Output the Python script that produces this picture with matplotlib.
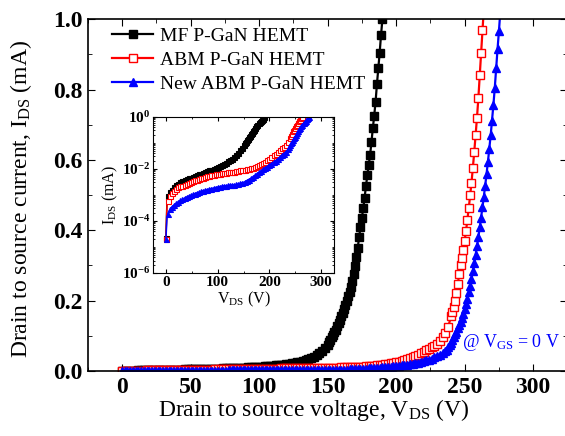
import numpy as np
import matplotlib
matplotlib.use("Agg")
import matplotlib.pyplot as plt
from matplotlib.ticker import MultipleLocator, FixedLocator, LogLocator, NullFormatter

plt.rcParams["font.family"] = ["Liberation Serif", "DejaVu Serif"]
plt.rcParams["mathtext.fontset"] = "custom"
plt.rcParams["mathtext.rm"] = "Liberation Serif"
plt.rcParams["mathtext.it"] = "Liberation Serif:italic"
plt.rcParams["mathtext.bf"] = "Liberation Serif:bold"

# sweep voltages (V): 2 V steps on the low part, 1 V steps on the steep part
mf_v = list(range(0, 150, 2)) + list(range(150, 191))
abm_v = list(range(0, 240, 2)) + list(range(240, 265))
new_v = list(range(0, 236, 2)) + list(range(236, 277))

# drain current (mA)
mf_i = [2.2e-5, 6.0e-4, 9.0e-4, 1.1e-3, 1.25e-3, 1.4e-3, 1.6e-3, 1.8e-3, 2.0e-3, 2.2e-3,
        2.4e-3, 2.55e-3, 2.7e-3, 2.85e-3, 3.0e-3, 3.2e-3, 3.35e-3, 3.5e-3, 3.65e-3, 3.8e-3,
        4.0e-3, 4.15e-3, 4.3e-3, 4.5e-3, 4.65e-3, 4.8e-3, 5.0e-3, 5.15e-3, 5.3e-3, 5.5e-3,
        5.7e-3, 5.9e-3, 6.1e-3, 6.3e-3, 6.55e-3, 6.8e-3, 7.0e-3, 7.3e-3, 7.55e-3, 7.8e-3,
        8.1e-3, 8.4e-3, 8.7e-3, 9.1e-3, 9.4e-3, 9.8e-3, 1.01e-2, 1.05e-2, 1.1e-2, 1.15e-2,
        1.2e-2, 1.26e-2, 1.32e-2, 1.38e-2, 1.44e-2, 1.5e-2, 1.58e-2, 1.66e-2, 1.75e-2, 1.85e-2,
        1.95e-2, 2.07e-2, 2.19e-2, 2.32e-2, 2.44e-2, 2.55e-2, 2.75e-2, 3.0e-2, 3.3e-2, 3.7e-2,
        4.1e-2, 4.6e-2, 5.1e-2, 5.7e-2, 6.5e-2,
        0.075, 0.082, 0.089, 0.096, 0.103, 0.110, 0.118, 0.127, 0.136, 0.146,
        0.156, 0.166, 0.176, 0.188, 0.200, 0.213, 0.226, 0.240, 0.256, 0.275,
        0.298, 0.325, 0.350, 0.380, 0.410, 0.435, 0.462, 0.493, 0.525, 0.557,
        0.585, 0.614, 0.650, 0.690, 0.725, 0.765, 0.815, 0.860, 0.905, 0.955,
        1.000]

abm_i = [2e-5, 4e-4, 6e-4, 7.5e-4, 8.8e-4, 1.0e-3, 1.15e-3, 1.28e-3, 1.42e-3, 1.56e-3,
         1.7e-3, 1.82e-3, 1.94e-3, 2.04e-3, 2.12e-3, 2.2e-3, 2.28e-3, 2.36e-3, 2.45e-3, 2.58e-3,
         2.7e-3, 2.82e-3, 2.94e-3, 3.06e-3, 3.18e-3, 3.3e-3, 3.42e-3, 3.54e-3, 3.66e-3, 3.78e-3,
         3.9e-3, 4.02e-3, 4.14e-3, 4.26e-3, 4.38e-3, 4.5e-3, 4.62e-3, 4.74e-3, 4.86e-3, 4.98e-3,
         5.1e-3, 5.25e-3, 5.4e-3, 5.55e-3, 5.7e-3, 5.8e-3, 5.92e-3, 6.04e-3, 6.16e-3, 6.28e-3,
         6.4e-3, 6.48e-3, 6.56e-3, 6.66e-3, 6.78e-3, 6.9e-3, 7.02e-3, 7.14e-3, 7.24e-3, 7.32e-3,
         7.4e-3, 7.48e-3, 7.56e-3, 7.64e-3, 7.72e-3, 7.8e-3, 7.92e-3, 8.04e-3, 8.16e-3, 8.28e-3,
         8.4e-3, 8.55e-3, 8.7e-3, 8.86e-3, 9.03e-3, 9.2e-3, 9.36e-3, 9.52e-3, 9.7e-3, 9.9e-3,
         1.01e-2, 1.03e-2, 1.05e-2, 1.08e-2, 1.11e-2, 1.15e-2, 1.19e-2, 1.23e-2, 1.27e-2, 1.32e-2,
         1.38e-2, 1.44e-2, 1.51e-2, 1.6e-2, 1.7e-2, 1.8e-2, 1.92e-2, 2.04e-2, 2.17e-2, 2.32e-2,
         2.5e-2, 2.68e-2, 2.88e-2, 3.1e-2, 3.35e-2, 3.6e-2, 3.9e-2, 4.25e-2, 4.6e-2, 5.0e-2,
         5.5e-2, 5.9e-2, 6.3e-2, 6.7e-2, 7.2e-2, 7.8e-2, 8.6e-2, 9.6e-2, 0.107, 0.125,
         0.155, 0.168, 0.182, 0.200, 0.222, 0.248, 0.275, 0.300, 0.320, 0.343,
         0.370, 0.398, 0.430, 0.463, 0.500, 0.535, 0.578, 0.622, 0.670, 0.720,
         0.775, 0.840, 0.905, 0.970, 1.030]

new_i = [2e-5, 1.3e-4, 1.9e-4, 2.4e-4, 2.8e-4, 3.2e-4, 3.5e-4, 3.85e-4, 4.15e-4, 4.5e-4,
         4.8e-4, 5.1e-4, 5.4e-4, 5.75e-4, 6.1e-4, 6.4e-4, 6.8e-4, 7.2e-4, 7.6e-4, 7.95e-4,
         8.3e-4, 8.65e-4, 9.0e-4, 9.35e-4, 9.7e-4, 1.0e-3, 1.04e-3, 1.08e-3, 1.12e-3, 1.16e-3,
         1.2e-3, 1.24e-3, 1.28e-3, 1.32e-3, 1.36e-3, 1.4e-3, 1.44e-3, 1.48e-3, 1.52e-3, 1.56e-3,
         1.6e-3, 1.64e-3, 1.68e-3, 1.72e-3, 1.76e-3, 1.8e-3, 1.84e-3, 1.88e-3, 1.92e-3, 1.96e-3,
         2.0e-3, 2.04e-3, 2.08e-3, 2.12e-3, 2.16e-3, 2.2e-3, 2.22e-3, 2.24e-3, 2.26e-3, 2.28e-3,
         2.3e-3, 2.32e-3, 2.34e-3, 2.36e-3, 2.38e-3, 2.4e-3, 2.44e-3, 2.48e-3, 2.52e-3, 2.56e-3,
         2.6e-3, 2.68e-3, 2.76e-3, 2.84e-3, 2.92e-3, 3.0e-3, 3.15e-3, 3.3e-3, 3.5e-3, 3.7e-3,
         3.9e-3, 4.1e-3, 4.3e-3, 4.55e-3, 4.85e-3, 5.2e-3, 5.6e-3, 6.0e-3, 6.4e-3, 6.9e-3,
         7.4e-3, 7.95e-3, 8.5e-3, 9.1e-3, 9.7e-3, 1.03e-2, 1.1e-2, 1.16e-2, 1.23e-2, 1.31e-2,
         1.4e-2, 1.5e-2, 1.6e-2, 1.71e-2, 1.83e-2, 1.95e-2, 2.08e-2, 2.22e-2, 2.38e-2, 2.58e-2,
         2.8e-2, 3.03e-2, 3.27e-2, 3.55e-2, 3.85e-2, 4.2e-2, 4.6e-2, 5.0e-2,
         0.056, 0.061, 0.067, 0.074,
         0.081, 0.088, 0.096, 0.104, 0.112, 0.121, 0.130, 0.140, 0.150, 0.162,
         0.175, 0.190, 0.206, 0.224, 0.243, 0.262, 0.283, 0.306, 0.330, 0.355,
         0.380, 0.408, 0.436, 0.465, 0.495, 0.527, 0.560, 0.595, 0.632, 0.670,
         0.712, 0.757, 0.805, 0.860, 0.915, 0.965, 1.020]

labels = ["MF P-GaN HEMT", "ABM P-GaN HEMT", "New ABM P-GaN HEMT"]
series = [(mf_v, mf_i), (abm_v, abm_i), (new_v, new_i)]
styles = [
    dict(color="black", marker="s", mfc="black", mec="black", ms=5.5),
    dict(color="red", marker="s", mfc="white", mec="red", ms=5.5),
    dict(color="blue", marker="^", mfc="blue", mec="blue", ms=6.3),
]

fig = plt.figure(figsize=(5.65, 4.36), dpi=100)
ax = fig.add_axes([0.1553, 0.149, 0.849, 0.807])

for (v, i), lab, st in zip(series, labels, styles):
    ax.plot(v, i, lw=1.6, mew=1.0, label=lab, **st)

ax.set_xlim(-25, 325)
ax.set_ylim(0, 1.0)
ax.xaxis.set_major_locator(MultipleLocator(50))
ax.xaxis.set_minor_locator(MultipleLocator(25))
ax.yaxis.set_major_locator(MultipleLocator(0.2))
ax.yaxis.set_minor_locator(MultipleLocator(0.1))
ax.yaxis.set_major_formatter(plt.FuncFormatter(lambda y, p: f"{y:.1f}"))
ax.tick_params(which="both", direction="in", top=True, right=True)
ax.tick_params(which="major", length=5, labelsize=17, pad=4)
ax.tick_params(which="minor", length=3)
for t in ax.get_xticklabels() + ax.get_yticklabels():
    t.set_fontweight("bold")
for s in ax.spines.values():
    s.set_linewidth(1.2)

ax.set_xlabel(r"Drain to source voltage, V$_{\mathregular{DS}}$ (V)", fontsize=17)
ax.set_ylabel(r"Drain to source current, I$_{\mathregular{DS}}$ (mA)", fontsize=17)
ax.xaxis.set_label_coords(0.471, -0.075)
ax.yaxis.set_label_coords(-0.113, 0.49)

ax.legend(loc="upper left", frameon=False, fontsize=14, numpoints=1,
          handlelength=2.1, handletextpad=0.35, labelspacing=0.33,
          borderpad=0.3, borderaxespad=0.1, bbox_to_anchor=(0.035, 1.0))

ax.text(0.985, 0.08, r"@ V$_{\mathregular{GS}}$ = 0 V", color="blue", fontsize=13,
        transform=ax.transAxes, ha="right", va="center")

# inset, log scale
ins = fig.add_axes([0.2708, 0.374, 0.3204, 0.358])
for (v, i), st in zip(series, styles):
    st = dict(st, ms=3.6)
    ins.plot(v, i, lw=1.1, mew=0.8, markevery=2, **st)
ins.set_yscale("log")
ins.set_xlim(-25, 325)
ins.set_ylim(1e-6, 1.0)
ins.xaxis.set_major_locator(MultipleLocator(100))
ins.xaxis.set_minor_locator(MultipleLocator(50))
ins.yaxis.set_major_locator(FixedLocator([1e-6, 1e-4, 1e-2, 1.0]))
ins.yaxis.set_minor_locator(LogLocator(base=10, subs=np.arange(1, 10), numticks=20))
ins.yaxis.set_minor_formatter(NullFormatter())
ins.yaxis.set_major_formatter(plt.FuncFormatter(
    lambda y, p: r"$\mathbf{10^{%d}}$" % int(round(np.log10(y)))))
ins.tick_params(which="both", direction="in", top=True, right=True)
ins.tick_params(which="major", length=3, labelsize=11, pad=2)
ins.tick_params(which="minor", length=1.5)
for t in ins.get_xticklabels():
    t.set_fontweight("bold")
ins.set_xlabel(r"V$_{\mathregular{DS}}$ (V)", fontsize=11.5, labelpad=1)
ins.set_ylabel(r"I$_{\mathregular{DS}}$ (mA)", fontsize=11.5, labelpad=1)

fig.savefig("out.png", dpi=100)
